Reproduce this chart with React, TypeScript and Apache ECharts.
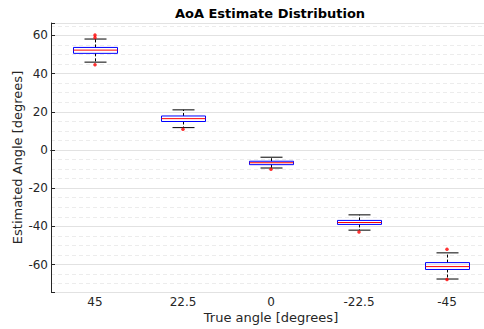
import React, { useEffect, useRef } from "react";
import * as echarts from "echarts";

const categories = ["45", "22.5", "0", "-22.5", "-45"];
const lowerWhisker = [46.0, 11.7, -9.45, -42.0, -67.6];
const q1 = [50.6, 14.9, -7.7, -39.0, -62.6];
const median = [52.3, 16.4, -6.7, -38.0, -61.1];
const q3 = [53.7, 17.8, -5.9, -36.9, -59.0];
const upperWhisker = [58.1, 21.0, -3.8, -34.0, -53.9];
const outlierIndex = [0, 0, 0, 1, 2, 3, 4, 4];
const outlierValue = [60.2, 58.9, 44.6, 10.9, -10.1, -43.0, -52.0, -67.9];

const yMin = -74.4;
const yMax = 66.5;

const FONT = "DejaVu Sans";
const TXT = "#262626";

export default function App() {
  const ref = useRef<HTMLDivElement>(null);
  useEffect(() => {
    if (!ref.current) return;
    const chart = echarts.init(ref.current, undefined, { renderer: "svg" });
    const boxData = categories.map((_, i) => [
      i,
      lowerWhisker[i],
      q1[i],
      median[i],
      q3[i],
      upperWhisker[i],
    ]);
    const outData = outlierIndex.map((c, i) => [c, outlierValue[i]]);
    chart.setOption({
      animation: false,
      textStyle: { fontFamily: FONT },
      graphic: [
        {
          type: "text",
          x: 270,
          y: 13,
          style: {
            text: "AoA Estimate Distribution",
            font: "bold 13px 'DejaVu Sans'",
            fill: "#000",
            align: "center",
            verticalAlign: "middle",
          },
        },
      ],
      grid: { left: 51, right: -7, top: 23, bottom: 37, containLabel: false, outerBoundsMode: "none" },
      xAxis: [
        {
          type: "category",
          data: categories,
          position: "bottom",
          boundaryGap: true,
          name: "True angle [degrees]",
          nameLocation: "middle",
          nameGap: 19,
          nameMoveOverlap: false,
          nameTextStyle: { fontFamily: FONT, fontSize: 13, color: TXT },
          axisLine: { lineStyle: { color: TXT, width: 1 } },
          axisTick: { inside: true, alignWithLabel: true, length: 4, lineStyle: { color: TXT } },
          axisLabel: { fontFamily: FONT, fontSize: 12, color: TXT, margin: 4 },
          splitLine: { show: false },
        },
        {
          type: "category",
          data: categories,
          position: "top",
          boundaryGap: true,
          axisLine: { lineStyle: { color: TXT, width: 1 } },
          axisTick: { inside: true, alignWithLabel: true, length: 4, lineStyle: { color: TXT } },
          axisLabel: { show: false },
          splitLine: { show: false },
        },
      ],
      yAxis: [
        {
          type: "value",
          min: yMin,
          max: yMax,
          splitNumber: 7,
          z: 3,
          name: "Estimated Angle [degrees]",
          nameLocation: "middle",
          nameGap: 27,
          nameMoveOverlap: false,
          nameTextStyle: { fontFamily: FONT, fontSize: 13, color: TXT },
          axisLine: { show: true, lineStyle: { color: TXT, width: 1 } },
          axisTick: { show: true, inside: true, length: 4, lineStyle: { color: TXT } },
          axisLabel: {
            fontFamily: FONT,
            fontSize: 12,
            color: TXT,
            margin: 3,
            formatter: (v: number) => (Math.abs(v % 20) < 1e-6 ? String(Math.round(v)) : ""),
          },
          splitLine: { show: true, lineStyle: { color: "#e2e2e2", width: 1, type: "solid" } },
        },
        {
          type: "value",
          min: yMin,
          max: yMax,
          splitNumber: 28,
          z: 1,
          axisLine: { show: false },
          axisTick: { show: false },
          axisLabel: { show: false },
          splitLine: { show: true, lineStyle: { color: "#ececec", width: 1, type: [4, 3] } },
        },
      ],
      series: [
        {
          type: "custom",
          xAxisIndex: 0,
          yAxisIndex: 0,
          z: 5,
          data: boxData,
          renderItem: (params: any, api: any) => {
            const x = api.value(0);
            const lo = api.coord([x, api.value(1)]);
            const b1 = api.coord([x, api.value(2)]);
            const md = api.coord([x, api.value(3)]);
            const b3 = api.coord([x, api.value(4)]);
            const hi = api.coord([x, api.value(5)]);
            const band = api.size([1, 0])[0];
            const bw = band * 0.5;
            const cw = band * 0.25;
            const cx = Math.round(lo[0]) + 0.5;
            const black = { stroke: "#000", lineWidth: 1, fill: null };
            const dashed = { stroke: "#000", lineWidth: 1, lineDash: [3, 2], fill: null };
            return {
              type: "group",
              children: [
                { type: "line", shape: { x1: cx, y1: b3[1], x2: cx, y2: hi[1] }, style: dashed },
                { type: "line", shape: { x1: cx, y1: b1[1], x2: cx, y2: lo[1] }, style: dashed },
                { type: "line", shape: { x1: cx - cw / 2, y1: hi[1], x2: cx + cw / 2, y2: hi[1] }, style: black },
                { type: "line", shape: { x1: cx - cw / 2, y1: lo[1], x2: cx + cw / 2, y2: lo[1] }, style: black },
                {
                  type: "rect",
                  shape: { x: cx - bw / 2, y: b3[1], width: bw, height: b1[1] - b3[1] },
                  style: { stroke: "#0000ff", lineWidth: 1, fill: "rgba(255,255,255,0)" },
                },
                {
                  type: "line",
                  shape: { x1: cx - bw / 2, y1: md[1], x2: cx + bw / 2, y2: md[1] },
                  style: { stroke: "#ff0000", lineWidth: 1 },
                },
              ],
            };
          },
        },
        {
          type: "scatter",
          xAxisIndex: 0,
          yAxisIndex: 0,
          z: 6,
          data: outData,
          symbol: "circle",
          symbolSize: 3.5,
          itemStyle: { color: "#ff0000" },
        },
      ],
    });
    return () => chart.dispose();
  }, []);
  return <div ref={ref} style={{ width: 484, height: 329, position: "absolute", left: 0, top: 0 }} />;
}
